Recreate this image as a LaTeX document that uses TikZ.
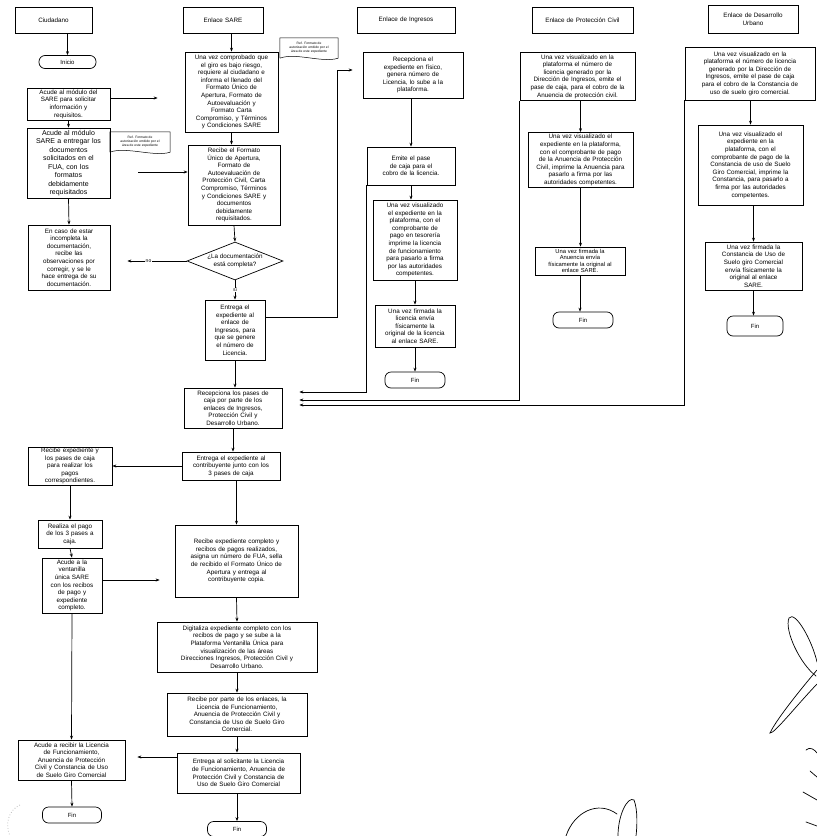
\documentclass[tikz,border=0pt]{standalone}
\usepackage{fontspec}
\setmainfont{Liberation Sans}
\usetikzlibrary{shapes.geometric,arrows.meta,calc}
\begin{document}
\begin{tikzpicture}[x=1pt,y=-1pt,
  bx/.style={draw, line width=0.7pt, align=center, inner xsep=0pt, inner ysep=0.8pt, font=\fontsize{6.3}{7.6}\selectfont},
  bxl/.style={bx, font=\fontsize{7}{8.5}\selectfont},
  bxs/.style={bx, font=\fontsize{5.8}{6.6}\selectfont},
  sz/.style 2 args={text width=#1pt, minimum width=#1pt, minimum height=#2pt},
  term/.style={draw, line width=0.7pt, rounded corners=6pt, font=\fontsize{6}{7}\selectfont, inner sep=1pt},
  arr/.style={-{Stealth[length=4pt,width=3pt]}, line width=0.7pt},
  lbl/.style={fill=white, inner sep=0.5pt, font=\fontsize{5}{6}\selectfont},
  notetxt/.style={align=center, inner sep=1pt, font=\fontsize{3.3}{3.9}\selectfont},
  sig/.style={line width=0.7pt, line cap=round}
]
\fill[white] (0,0) rectangle (817,836);
\useasboundingbox (0,0) rectangle (817,836);

% headers
\node[bx, sz={77}{26}] (hC) at (53.5,20) {Ciudadano};
\node[bx, sz={80}{26}] (hS) at (223,20) {Enlace SARE};
\node[bx, sz={98}{26}] (hI) at (406,20) {Enlace de Ingresos};
\node[bx, sz={101}{26}] (hP) at (582.5,20) {Enlace de Protección Civil};
\node[bx, sz={90}{28}] (hD) at (753,19) {Enlace de Desarrollo\\Urbano};

% Ciudadano column
\node[term, minimum width=57pt, minimum height=13pt] (inicio) at (67.5,62) {Inicio};
\node[bx, sz={83}{32}] (c1) at (68.5,104) {Acude al módulo del\\SARE para solicitar\\información y\\requisitos.};
\node[bxl, sz={83}{70}] (c2) at (68.5,163) {Acude al módulo\\SARE a entregar los\\documentos\\solicitados en el\\FUA, con los\\formatos\\debidamente\\requisitados};
\node[bx, sz={82}{65}] (c3) at (69,257.5) {En caso de estar\\incompleta la\\documentación,\\recibe las\\observaciones por\\corregir, y se le\\hace entrega de su\\documentación.};
\node[bx, sz={84}{38}] (c4) at (70,466) {Recibe expediente y\\los pases de caja\\para realizar los\\pagos\\correspondientes.};
\node[bx, sz={64}{28}] (c5) at (70,534) {Realiza el pago\\de los 3 pases a\\caja.};
\node[bx, sz={60}{55}] (c6) at (72,585.5) {Acude a la\\ventanilla\\única SARE\\con los recibos\\de pago y\\expediente\\completo.};
\node[bx, sz={107}{40}] (c7) at (71.5,760) {Acude a recibir la Licencia\\de Funcionamiento,\\Anuencia de Protección\\Civil y Constancia de Uso\\de Suelo Giro Comercial};
\node[term, minimum width=59pt, minimum height=16pt] (finC) at (72,815) {Fin};

% SARE column
\node[bx, sz={93}{80}] (s1) at (231.5,92) {Una vez comprobado que\\el giro es bajo riesgo,\\requiere al ciudadano e\\informa el llenado del\\Formato Único de\\Apertura, Formato de\\Autoevaluación y\\Formato Carta\\Compromiso, y Términos\\y Condiciones SARE};
\node[bx, sz={92}{80}] (s2) at (234,185) {Recibe el Formato\\Único de Apertura,\\Formato de\\Autoevaluación de\\Protección Civil, Carta\\Compromiso, Términos\\y Condiciones SARE y\\documentos\\debidamente\\requisitados.};
\node[draw, line width=0.7pt, diamond, aspect=2.5, inner sep=0pt, minimum width=96pt, minimum height=38pt, align=center, font=\fontsize{6.3}{7.6}\selectfont] (dia) at (235,261) {¿La documentación\\está completa?};
\node[bx, sz={60}{60}] (s3) at (235,330) {Entrega el\\expediente al\\enlace de\\Ingresos, para\\que se genere\\el número de\\Licencia.};
\node[bx, sz={98}{40}] (s4) at (233,408) {Recepciona los pases de\\caja por parte de los\\enlaces de Ingresos,\\Protección Civil y\\Desarrollo Urbano.};
\node[bx, sz={98}{28}] (s5) at (231,466) {Entrega el expediente al\\contribuyente junto con los\\3 pases de caja};
\node[bx, sz={123}{72}] (s6) at (236.5,561) {Recibe expediente completo y\\recibos de pagos realizados,\\asigna un número de FUA, sella\\de recibido el Formato Único de\\Apertura y entrega al\\contribuyente copia.};
\node[bx, sz={160}{50}] (s7) at (237,647) {Digitaliza expediente completo con los\\recibos de pago y se sube a la\\Plataforma Ventanilla Única para\\visualización de las áreas\\Direcciones Ingresos, Protección Civil y\\Desarrollo Urbano.};
\node[bx, sz={140}{43}] (s8) at (237,714.5) {Recibe por parte de los enlaces, la\\Licencia de Funcionamiento,\\Anuencia de Protección Civil y\\Constancia de Uso de Suelo Giro\\Comercial.};
\node[bx, sz={123}{40}] (s9) at (238.5,773) {Entrega al solicitante la Licencia\\de Funcionamiento, Anuencia de\\Protección Civil y Constancia de\\Uso de Suelo Giro Comercial};
\node[term, minimum width=59pt, minimum height=15pt] (finS) at (237,829) {Fin};

% notes
\node[notetxt, minimum width=58pt, minimum height=20pt, text width=56pt] (nA) at (309,48) {Ref. Formato de\\autorización emitido por el\\área de este expediente};
\draw[line width=0.5pt] (nA.south west) -- (nA.north west) -- (nA.north east) -- (nA.south east) .. controls +(-16pt,-5pt) and +(16pt,6pt) .. (nA.south west);
\node[notetxt, minimum width=60pt, minimum height=20pt, text width=58pt] (nB) at (140,142) {Ref. Formato de\\autorización emitido por el\\área de este expediente};
\draw[line width=0.5pt] (nB.south west) -- (nB.north west) -- (nB.north east) -- (nB.south east) .. controls +(-16pt,-5pt) and +(16pt,6pt) .. (nB.south west);

% Ingresos column
\node[bx, sz={100}{46}] (i1) at (413,75) {Recepciona el\\expediente en físico,\\genera número de\\Licencia, lo sube a la\\plataforma.};
\node[bx, sz={88}{38}] (i2) at (411,166) {Emite el pase\\de caja para el\\cobro de la licencia.};
\node[bx, sz={84}{80}] (i3) at (415,240) {Una vez visualizado\\el expediente en la\\plataforma, con el\\comprobante de\\pago en tesorería\\imprime la licencia\\de funcionamiento\\para pasarlo a firma\\por las autoridades\\competentes.};
\node[bx, sz={80}{42}] (i4) at (415,326) {Una vez firmada la\\licencia envía\\físicamente la\\original de la licencia\\al enlace SARE.};
\node[term, minimum width=60pt, minimum height=16pt] (finI) at (415,380) {Fin};

% Proteccion Civil column
\node[bx, sz={115}{48}] (p1) at (577.5,76.5) {Una vez visualizado en la\\plataforma el número de\\licencia generado por la\\Dirección de Ingresos, emite el\\pase de caja, para el cobro de la\\Anuencia de protección civil.};
\node[bx, sz={105}{55}] (p2) at (580.5,160) {Una vez visualizado el\\expediente en la plataforma,\\con el comprobante de pago\\de la Anuencia de Protección\\Civil, imprime la Anuencia para\\pasarlo a firma por las\\autoridades competentes.};
\node[bxs, sz={90}{28}] (p3) at (580,261) {Una vez firmada la\\Anuencia envía\\físicamente la original al\\enlace SARE.};
\node[term, minimum width=60pt, minimum height=16pt] (finP) at (583,320) {Fin};

% Desarrollo Urbano column
\node[bx, sz={130}{53}] (d1) at (750,73.5) {Una vez visualizado en la\\plataforma el número de licencia\\generado por la Dirección de\\Ingresos, emite el pase de caja\\para el cobro de la Constancia de\\uso de suelo giro comercial.};
\node[bx, sz={105}{80}] (d2) at (750.5,165) {Una vez visualizado el\\expediente en la\\plataforma, con el\\comprobante de pago de la\\Constancia de uso de Suelo\\Giro Comercial, imprime la\\Constancia, para pasarlo a\\firma por las autoridades\\competentes.};
\node[bx, sz={97}{48}] (d3) at (753.5,266) {Una vez firmada la\\Constancia de Uso de\\Suelo giro Comercial\\envía físicamente la\\original al enlace\\SARE.};
\node[term, minimum width=56pt, minimum height=20pt] (finD) at (755,326) {Fin};

% connectors: Ciudadano
\draw[arr] (inicio.north |- hC.south) -- (inicio.north);
\draw[arr, shorten >=27pt] ([yshift=6pt]c1.east) -- ([yshift=6pt]c1.east -| s1.west);
\draw[arr] (c1.south) -- (c2.north);
\draw[arr, shorten <=28pt] ([yshift=-9pt]c2.east) -- ([yshift=-9pt]c2.east -| s2.west);
\draw[arr] (c2.south) -- (c3.north);
\draw[arr] (c4.south) -- (c5.north);
\draw[arr] (c5.south) -- (c6.north);
\draw[arr] (c6.south) -- (c7.north);
\draw[arr] (c7.south) -- (finC.north);

% connectors: SARE
\draw[arr] (s1.north |- hS.south) -- (s1.north);
\draw[arr] (s1.south) -- (s2.north -| s1.south);
\draw[arr] (s2.south) -- (dia.north);
\draw[arr] (dia.south) -- node[lbl] {sí} (s3.north);
\draw[arr, shorten >=17pt] (dia.west) -- node[lbl] {no} (dia.west -| c3.east);
\coordinate (jb) at (337,70);
\draw[arr, shorten >=10pt] ([yshift=13pt]s3.east) -| (jb) -- (jb -| i1.west);
\draw[arr] (s3.south) -- (s3.south |- s4.north);
\draw[arr] (s4.south) -- (s4.south |- s5.north);
\draw[arr] (s5.west) -- (s5.west -| c4.east);
\draw[arr] (s6.north |- s5.south) -- (s6.north);
\draw[arr, shorten >=15pt] ([yshift=5.5pt]c6.east) -- ([yshift=5.5pt]c6.east -| s6.west);
\draw[arr] (s6.south) -- (s7.north);
\draw[arr] (s7.south) -- (s8.north);
\draw[arr] (s8.south) -- (s9.north -| s8.south);
\draw[arr, shorten >=12pt] ([yshift=16pt]s9.west) -- ([yshift=16pt]s9.west -| c7.east);
\draw[arr] (s9.south -| finS) -- (finS.north);

% connectors: Ingresos
\draw[arr] (i1.south -| i2.north) -- (i2.north);
\draw[arr] ([xshift=-4pt]i3.north |- i2.south) -- ([xshift=-4pt]i3.north);
\draw[arr] (i3.south) -- (i4.north);
\draw[arr] (i4.south) -- (finI.north);
\draw[arr, shorten >=17pt] (i2.south west) |- ([yshift=16pt]s4.east);

% connectors: Proteccion Civil
\draw[arr] (p2.north |- p1.south) -- (p2.north);
\draw[arr] (p2.south) -- (p2.south |- p3.north);
\draw[arr] (p3.south) -- (p3.south |- finP.north);
\draw[arr, shorten >=17pt] (p1.south west) |- ([yshift=8pt]s4.east);

% connectors: Desarrollo Urbano
\draw[arr] (d2.north |- d1.south) -- (d2.north);
\draw[arr] (d3.north |- d2.south) -- (d3.north);
\draw[arr] (d3.south) -- (d3.south |- finD.north);
\draw[arr, shorten >=17pt] (d1.south west) |- ([yshift=3pt]s4.east);

% signatures and marks
\draw[sig] (816,676) .. controls (800,664) and (784,630) .. (789,618) .. controls (795,610) and (812,640) .. (817,662);
\draw[sig] (817,670) .. controls (800,690) and (776,720) .. (770,733) .. controls (774,734) and (796,706) .. (817,684);
\draw[sig] (806,750) .. controls (810,746) and (815,750) .. (817,753);
\draw[sig] (810,771) -- (817,777);
\draw[sig] (803,792) -- (817,800);
\draw[sig] (806,822) -- (817,826);
\draw[sig] (566,836) .. controls (574,812) and (598,800) .. (617,814);
\draw[sig] (618,836) .. controls (618,814) and (628,796) .. (634,800) .. controls (638,810) and (637,828) .. (636,836);
\draw[gray!50, dotted, line width=0.8pt] (20,805) .. controls (8,810) and (5,825) .. (10,836);
\end{tikzpicture}
\end{document}
